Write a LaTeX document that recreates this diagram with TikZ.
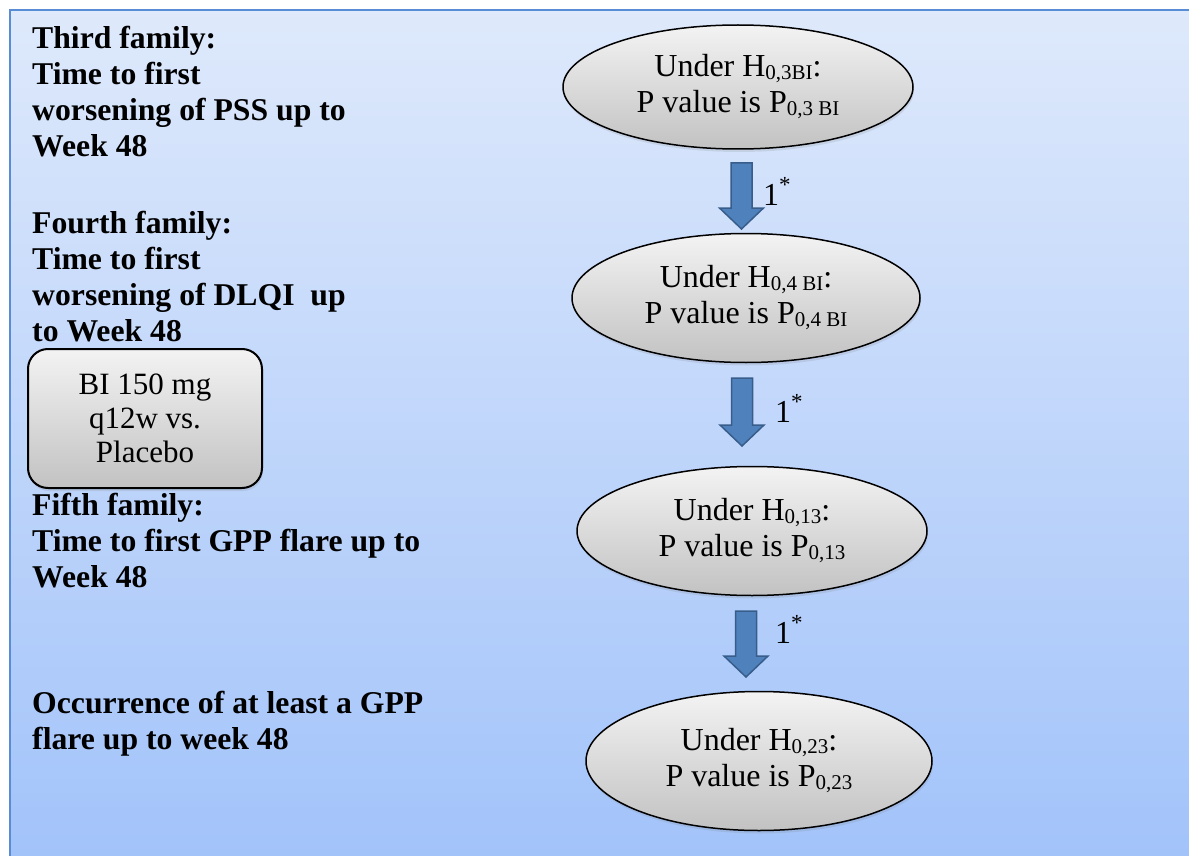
\documentclass[tikz,border=0pt]{standalone}
\usepackage{fontspec}
\setmainfont{Liberation Serif}
\usetikzlibrary{shapes.geometric,calc,shadows}
\definecolor{bgtop}{RGB}{222,233,251}
\definecolor{bgbot}{RGB}{162,195,250}
\definecolor{framec}{RGB}{88,140,212}
\definecolor{arrfill}{RGB}{79,129,189}
\definecolor{arrline}{RGB}{56,93,138}
\definecolor{gtop}{RGB}{243,243,243}
\definecolor{gbot}{RGB}{194,194,194}
\newcommand{\sbs}[1]{\raisebox{-3pt}{\fontsize{21}{21}\selectfont #1}}
\newcommand{\blockarrow}[2]{%
  \draw[barrow] ($(#1)+(-10.5,0)$) -- ($(#2)+(-10.5,-21)$) -- ($(#2)+(-22,-21)$) -- (#2)
    -- ($(#2)+(22,-21)$) -- ($(#2)+(10.5,-21)$) -- ($(#1)+(10.5,0)$) -- cycle;}
\begin{document}
\begin{tikzpicture}[x=1pt,y=-1pt,
  hyp/.style={ellipse, draw=black, line width=1.5pt, top color=gtop, bottom color=gbot,
    inner sep=0pt, align=center, font=\fontsize{32}{36}\selectfont,
    drop shadow={opacity=0.18, shadow xshift=1pt, shadow yshift=-3pt}},
  bibox/.style={rectangle, rounded corners=20pt, draw=black, line width=2pt,
    top color=gtop, bottom color=gbot, inner sep=0pt, align=center,
    font=\fontsize{31}{34}\selectfont,
    drop shadow={opacity=0.18, shadow xshift=1pt, shadow yshift=-3pt}},
  lefttext/.style={anchor=north west, inner sep=0pt, align=left,
    font=\fontsize{31.7}{36}\selectfont\bfseries},
  barrow/.style={fill=arrfill, draw=arrline, line width=1.5pt, line join=miter},
  onelabel/.style={anchor=base west, inner sep=0pt, font=\fontsize{32}{32}\selectfont}]
\useasboundingbox (0,0) rectangle (1189,856);
\fill[white] (0,0) rectangle (1189,856);
\shade[top color=bgtop, bottom color=bgbot] (10,10) rectangle (1189,856);
\draw[framec, line width=2pt] (10,856) -- (10,10) -- (1189,10);

% left texts
\node[lefttext] (t1) at (32,26)
  {Third family:\\Time to first\\worsening of PSS up to\\Week 48};
\node[lefttext] (t2) at (32,211)
  {Fourth family:\\Time to first\\worsening of DLQI\ \ up\\to Week 48};
\node[lefttext] (t3) at (32,493)
  {Fifth family:\\Time to first GPP flare up to\\Week 48};
\node[lefttext] (t4) at (32,691)
  {Occurrence of at least a GPP\\flare up to week 48};

% treatment box
\node[bibox, minimum width=234, minimum height=139] (bi) at (145,418.5)
  {BI 150 mg\\q12w vs.\\Placebo};

% hypotheses
\node[hyp, minimum width=350, minimum height=124] (e1) at (738,87)
  {Under H\sbs{0,3BI}:\\P value is P\sbs{0,3 BI}};
\node[hyp, minimum width=348, minimum height=129] (e2) at (746,298)
  {Under H\sbs{0,4 BI}:\\P value is P\sbs{0,4 BI}};
\node[hyp, minimum width=350, minimum height=129] (e3) at (752,531)
  {Under H\sbs{0,13}:\\P value is P\sbs{0,13}};
\node[hyp, minimum width=346, minimum height=139] (e4) at (759,761)
  {Under H\sbs{0,23}:\\P value is P\sbs{0,23}};

% block arrows
\coordinate (a1s) at (741.5,163); \coordinate (a1e) at (741.5,229);
\coordinate (a2s) at (742,378);   \coordinate (a2e) at (742,446);
\coordinate (a3s) at (746,611);   \coordinate (a3e) at (746,677);
\blockarrow{a1s}{a1e}
\blockarrow{a2s}{a2e}
\blockarrow{a3s}{a3e}

\node[onelabel] (l1) at (763,205) {1\raisebox{0.4em}{\fontsize{23}{23}\selectfont *}};
\node[onelabel] (l2) at (775,422) {1\raisebox{0.4em}{\fontsize{23}{23}\selectfont *}};
\node[onelabel] (l3) at (775,643) {1\raisebox{0.4em}{\fontsize{23}{23}\selectfont *}};
\end{tikzpicture}
\end{document}
